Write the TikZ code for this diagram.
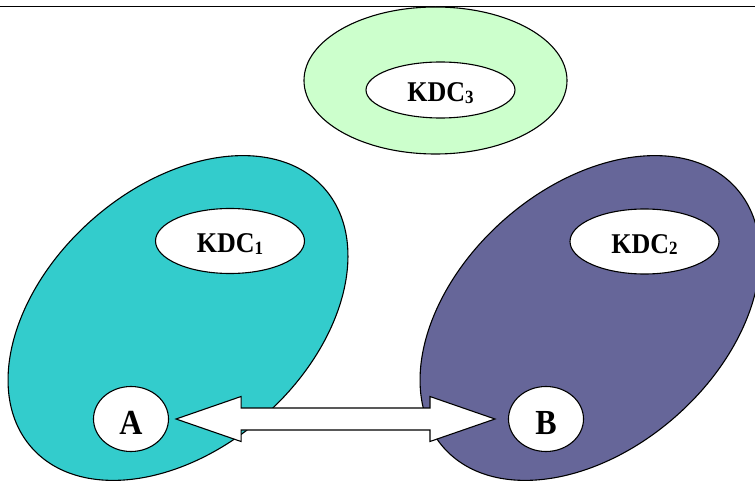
\documentclass[tikz,border=0pt]{standalone}
\usepackage{fontspec}
\setmainfont{Liberation Serif}
\usetikzlibrary{shapes.geometric,calc}
\definecolor{realmone}{HTML}{33CCCC}
\definecolor{realmtwo}{HTML}{666699}
\definecolor{realmthree}{HTML}{CCFFCC}
% KDC name with a small index set just below the baseline
\newcommand{\kdcname}[1]{\scalebox{1}[1.1]{\fontsize{26}{26}\selectfont\bfseries KDC\fontsize{17}{17}\selectfont\raisebox{-1pt}{#1}}}
\newcommand{\partyname}[1]{\scalebox{1}[1.1]{\fontsize{32}{32}\selectfont\bfseries #1}}
\begin{document}
\begin{tikzpicture}[x=1pt,y=-1pt,
  outline/.style={draw=black, line width=1.1pt},
  realm/.style={outline, ellipse, inner sep=0pt, minimum width=391pt,
    minimum height=261pt, rotate=41.6},
  server/.style={outline, ellipse, fill=white, inner sep=0pt,
    minimum width=149pt, minimum height=65pt, text height=24pt, text depth=0pt},
  party/.style={outline, ellipse, fill=white, inner sep=0pt,
    minimum width=75pt, minimum height=65pt, text height=31pt, text depth=0pt},
  dblarrow/.style={outline, fill=white, line join=miter}]
\useasboundingbox (0,0) rectangle (755,481);
\clip (0,0) rectangle (755,481);

% rule along the top
\coordinate (ruleL) at (0,6);
\coordinate (ruleR) at (755,6);
\draw[line width=0.9pt] (ruleL) -- (ruleR);

% the three realms
\node[realm, fill=realmone] (realm1) at (178,318) {};
\node[realm, fill=realmtwo] (realm2) at (590,318) {};
\node[outline, ellipse, fill=realmthree, inner sep=0pt,
  minimum width=263pt, minimum height=147pt] (realm3) at (435.5,80.5) {};

% key distribution centres
\node[server] (kdc1) at (230,241) {\kdcname{1}};
\node[server] (kdc2) at (644.5,241.5) {\kdcname{2}};
\node[server, minimum height=56pt] (kdc3) at (440.5,90) {\kdcname{3}};

% the two parties
\node[party] (A) at (131,419) {\partyname{A}};
\node[party] (B) at (546,419) {\partyname{B}};

% double-headed block arrow between A and B
\coordinate (tipL) at ([xshift=7pt]A.east);
\coordinate (tipR) at ($(tipL -| B.west)+(-13,0)$);
\draw[dblarrow]
  (tipL) -- ($(tipL)+(65,-22.5)$) -- ($(tipL)+(65,-11)$)
  -- ($(tipR)+(-65,-11)$) -- ($(tipR)+(-65,-22.5)$) -- (tipR)
  -- ($(tipR)+(-65,22.5)$) -- ($(tipR)+(-65,11)$)
  -- ($(tipL)+(65,11)$) -- ($(tipL)+(65,22.5)$) -- cycle;
\end{tikzpicture}
\end{document}
